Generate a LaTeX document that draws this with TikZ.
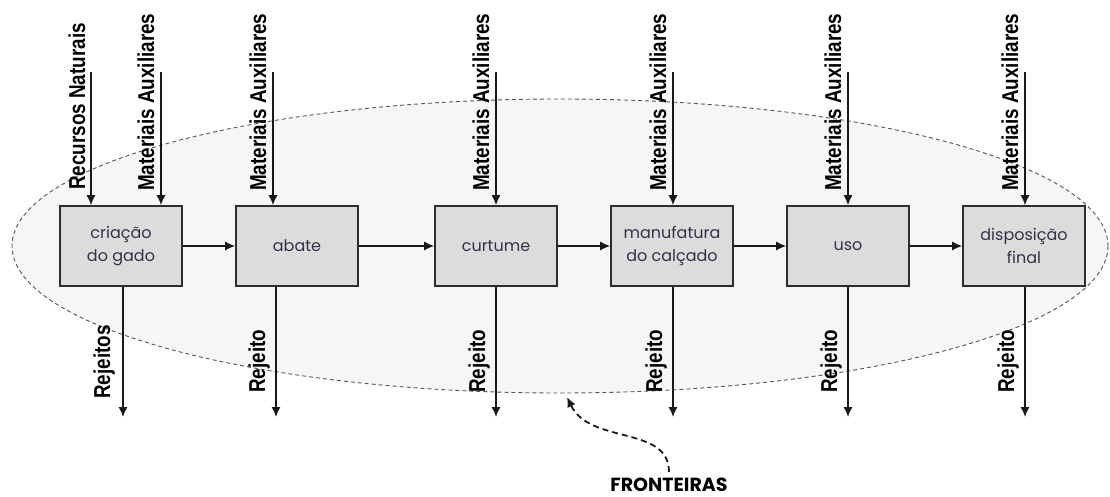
\documentclass[tikz,border=0pt]{standalone}
\usepackage{fontspec}
\setmainfont{Liberation Sans}
\newfontfamily\boxfont{Poppins}
\usetikzlibrary{arrows.meta}
\definecolor{boxfill}{RGB}{220,220,220}
\definecolor{boxline}{RGB}{45,45,45}
\definecolor{ellfill}{RGB}{246,246,246}
\definecolor{elline}{RGB}{85,85,85}
\definecolor{txtc}{RGB}{50,50,70}
\definecolor{arr}{RGB}{25,25,25}
\tikzset{
  stagebox/.style={draw=boxline, line width=1.6pt, fill=boxfill, minimum width=122pt, minimum height=80pt, inner sep=0pt,
    align=center, font=\boxfont\fontsize{16}{23}\selectfont, text=txtc},
  flow/.style={draw=arr, line width=1.4pt, -{Latex[length=10pt,width=9pt]}},
  vlabel/.style={rotate=90, anchor=base west, inner sep=0pt, font=\fontsize{23}{24}\bfseries\selectfont},
}
\newcommand{\nar}[1]{\scalebox{0.82}[1]{#1}}
\begin{document}
\begin{tikzpicture}[x=1pt,y=-1pt]
\useasboundingbox (0,0) rectangle (1110,497);
% boundary ellipse
\draw[draw=elline, fill=ellfill, dashed, dash pattern=on 4pt off 3pt, line width=0.9pt] (560,246) ellipse [x radius=548, y radius=147];
% stages
\node[stagebox] (b1) at (121,246) {criação\\do gado};
\node[stagebox] (b2) at (297,246) {abate};
\node[stagebox] (b3) at (496,246) {curtume};
\node[stagebox] (b4) at (672,246) {manufatura\\do calçado};
\node[stagebox] (b5) at (848,246) {uso};
\node[stagebox] (b6) at (1024,246) {disposição\\final};
% horizontal flow
\draw[flow] (b1) -- (b2);
\draw[flow] (b2) -- (b3);
\draw[flow] (b3) -- (b4);
\draw[flow] (b4) -- (b5);
\draw[flow] (b5) -- (b6);
% inputs
\coordinate (r1) at (91,72);
\coordinate (m1) at (161,72);
\coordinate (m2) at (273,72);
\coordinate (m3) at (496,72);
\coordinate (m4) at (673,72);
\coordinate (m5) at (848,72);
\coordinate (m6) at (1025,72);
\draw[flow] (r1) -- (r1 |- b1.north);
\draw[flow] (m1) -- (m1 |- b1.north);
\draw[flow] (m2) -- (m2 |- b2.north);
\draw[flow] (m3) -- (m3 |- b3.north);
\draw[flow] (m4) -- (m4 |- b4.north);
\draw[flow] (m5) -- (m5 |- b5.north);
\draw[flow] (m6) -- (m6 |- b6.north);
\node[vlabel] (lr1) at (85,190) {\nar{Recursos Naturais}};
\node[vlabel] (lm1) at (154,191) {\nar{Materiais Auxiliares}};
\node[vlabel] (lm2) at (266,191) {\nar{Materiais Auxiliares}};
\node[vlabel] (lm3) at (489,191) {\nar{Materiais Auxiliares}};
\node[vlabel] (lm4) at (666,191) {\nar{Materiais Auxiliares}};
\node[vlabel] (lm5) at (841,191) {\nar{Materiais Auxiliares}};
\node[vlabel] (lm6) at (1018,191) {\nar{Materiais Auxiliares}};
% outputs
\coordinate (o1) at (123,417);
\coordinate (o2) at (276,417);
\coordinate (o3) at (496,417);
\coordinate (o4) at (673,417);
\coordinate (o5) at (848,417);
\coordinate (o6) at (1025,417);
\draw[flow] (o1 |- b1.south) -- (o1);
\draw[flow] (o2 |- b2.south) -- (o2);
\draw[flow] (o3 |- b3.south) -- (o3);
\draw[flow] (o4 |- b4.south) -- (o4);
\draw[flow] (o5 |- b5.south) -- (o5);
\draw[flow] (o6 |- b6.south) -- (o6);
\node[vlabel] (lo1) at (110,399) {\nar{Rejeitos}};
\node[vlabel] (lo2) at (265,393) {\nar{Rejeito}};
\node[vlabel] (lo3) at (485,393) {\nar{Rejeito}};
\node[vlabel] (lo4) at (662,393) {\nar{Rejeito}};
\node[vlabel] (lo5) at (837,393) {\nar{Rejeito}};
\node[vlabel] (lo6) at (1014,393) {\nar{Rejeito}};
% boundary label
\node[anchor=north, inner sep=0pt, font=\boxfont\bfseries\fontsize{19}{20}\selectfont] (fr) at (669,478) {FRONTEIRAS};
\coordinate (ft) at (567,397);
\draw[draw=arr, line width=1.8pt, dash pattern=on 6pt off 4pt, -{Latex[length=10pt,width=9pt]}] (fr.north) ++(0,-6) .. controls (669,425) and (590,445) .. (ft);
\end{tikzpicture}
\end{document}
